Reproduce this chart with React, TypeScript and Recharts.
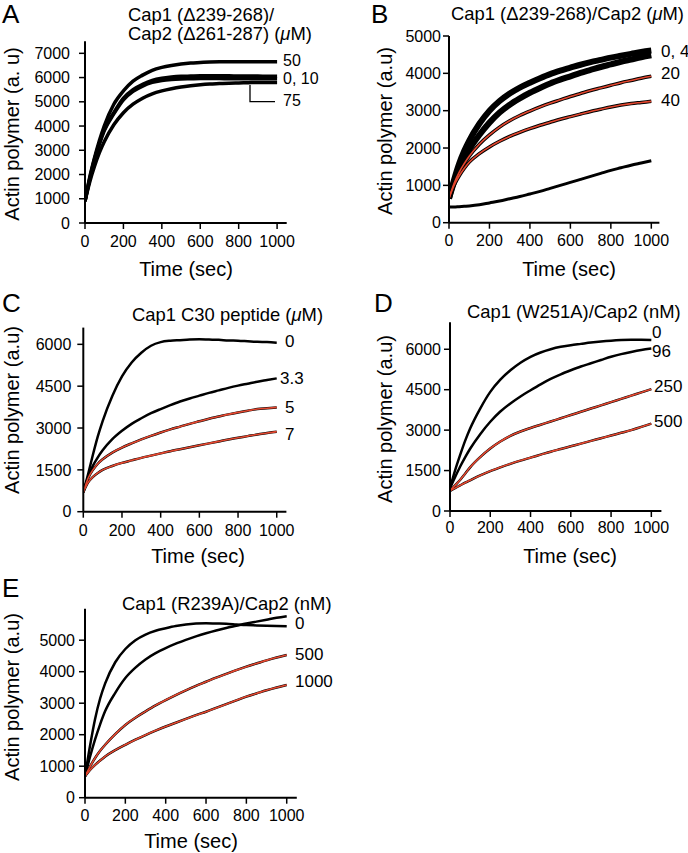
import { LineChart, Line, XAxis, YAxis } from 'recharts'

const FONT = '"Liberation Sans", Arial, Helvetica, sans-serif'
const RED = '#e4472f'

// sampling times (sec), shared by every trace
const time = [0, 25, 50, 75, 100, 150, 200, 250, 300, 350, 400, 450, 500, 550, 600, 650, 700, 750, 800, 850, 900, 950, 1000]
const xTicks = [0, 200, 400, 600, 800, 1000]

// A · Cap1 (Δ239-268)/Cap2 (Δ261-287) (µM)
const a50 = [900, 1900, 2700, 3400, 4000, 4900, 5450, 5850, 6100, 6300, 6420, 6500, 6560, 6600, 6620, 6640, 6650, 6650, 6650, 6650, 6650, 6650, 6650]
const a0 = [900, 1850, 2650, 3300, 3850, 4550, 5150, 5500, 5720, 5880, 5970, 6020, 6050, 6060, 6070, 6070, 6070, 6070, 6060, 6060, 6060, 6050, 6050]
const a10 = [900, 1800, 2600, 3250, 3800, 4500, 5080, 5430, 5650, 5800, 5880, 5920, 5940, 5950, 5960, 5960, 5960, 5950, 5950, 5950, 5950, 5950, 5950]
const a75 = [900, 1700, 2350, 2900, 3350, 4050, 4550, 4900, 5150, 5330, 5450, 5540, 5610, 5660, 5700, 5730, 5750, 5770, 5780, 5790, 5800, 5800, 5800]
const aTicks = [0, 1000, 2000, 3000, 4000, 5000, 6000, 7000]

// B · Cap1 (Δ239-268)/Cap2 (µM)
const b0 = [650, 1150, 1580, 1920, 2200, 2650, 3000, 3260, 3460, 3620, 3750, 3870, 3980, 4070, 4150, 4230, 4300, 4360, 4420, 4470, 4520, 4570, 4610]
const b4 = [650, 1080, 1430, 1720, 1960, 2350, 2680, 2950, 3160, 3330, 3480, 3610, 3730, 3830, 3920, 4010, 4090, 4170, 4240, 4310, 4370, 4430, 4480]
const b20 = [650, 1050, 1350, 1580, 1780, 2100, 2350, 2560, 2730, 2870, 2990, 3100, 3200, 3290, 3380, 3460, 3540, 3610, 3680, 3750, 3810, 3870, 3920]
const b40 = [650, 1000, 1250, 1450, 1620, 1850, 2030, 2180, 2310, 2420, 2520, 2610, 2690, 2770, 2840, 2910, 2980, 3040, 3100, 3150, 3190, 3220, 3250]
const bLow = [420, 420, 430, 440, 450, 480, 530, 580, 640, 700, 770, 840, 920, 1000, 1080, 1160, 1240, 1320, 1400, 1470, 1540, 1600, 1660]
const bTicks = [0, 1000, 2000, 3000, 4000, 5000]

// C · Cap1 C30 peptide (µM)
const c0 = [700, 1350, 2050, 2700, 3250, 4150, 4850, 5350, 5700, 5950, 6080, 6130, 6150, 6170, 6180, 6170, 6160, 6140, 6130, 6110, 6090, 6080, 6060]
const c33 = [700, 1250, 1650, 1950, 2200, 2600, 2900, 3150, 3350, 3530, 3680, 3820, 3950, 4060, 4160, 4260, 4350, 4440, 4520, 4590, 4660, 4720, 4780]
const c5 = [700, 1200, 1500, 1720, 1880, 2120, 2300, 2450, 2590, 2720, 2840, 2950, 3050, 3150, 3240, 3330, 3410, 3490, 3560, 3620, 3680, 3710, 3740]
const c7 = [700, 1050, 1250, 1390, 1500, 1640, 1750, 1840, 1930, 2010, 2090, 2170, 2240, 2310, 2380, 2450, 2520, 2590, 2650, 2710, 2770, 2820, 2870]
const cTicks = [0, 1500, 3000, 4500, 6000]

// D · Cap1 (W251A)/Cap2 (nM)
const d0 = [850, 1500, 2070, 2600, 3060, 3800, 4420, 4870, 5220, 5500, 5720, 5880, 6000, 6090, 6150, 6200, 6250, 6290, 6320, 6340, 6350, 6350, 6340]
const d96 = [840, 1250, 1640, 1990, 2310, 2850, 3310, 3690, 3990, 4250, 4480, 4700, 4900, 5070, 5220, 5360, 5480, 5600, 5720, 5820, 5900, 5970, 6025]
const d250 = [750, 950, 1150, 1380, 1620, 2000, 2320, 2580, 2790, 2950, 3080, 3200, 3320, 3440, 3560, 3680, 3800, 3920, 4040, 4160, 4280, 4400, 4520]
const d500 = [750, 850, 950, 1050, 1140, 1320, 1480, 1620, 1750, 1870, 1980, 2090, 2200, 2300, 2400, 2500, 2600, 2700, 2800, 2900, 3000, 3120, 3240]

// E · Cap1 (R239A)/Cap2 (nM)
const e0 = [680, 1650, 2500, 3150, 3630, 4300, 4720, 5000, 5180, 5300, 5380, 5450, 5500, 5530, 5540, 5530, 5520, 5500, 5480, 5470, 5460, 5450, 5440]
const eMid = [680, 1300, 1850, 2330, 2750, 3330, 3800, 4130, 4390, 4590, 4750, 4890, 5010, 5120, 5220, 5310, 5390, 5460, 5530, 5590, 5650, 5710, 5760]
const e500 = [680, 990, 1260, 1490, 1680, 2020, 2310, 2540, 2740, 2930, 3100, 3260, 3410, 3550, 3680, 3810, 3930, 4050, 4160, 4260, 4360, 4450, 4530]
const e1000 = [680, 880, 1040, 1180, 1310, 1510, 1680, 1840, 1990, 2130, 2260, 2380, 2500, 2620, 2730, 2850, 2970, 3090, 3210, 3310, 3410, 3500, 3580]
const eTicks = [0, 1000, 2000, 3000, 4000, 5000]

const toRows = (series: Record<string, number[]>) =>
  time.map((t, i) => {
    const row: Record<string, number> = { t }
    Object.keys(series).forEach((k) => {
      row[k] = series[k][i]
    })
    return row
  })

type PanelProps = {
  left: number
  top: number
  width: number
  height: number
  margin: { top: number; right: number; bottom: number; left: number }
  series: Record<string, number[]>
  xMax: number
  yMax: number
  yTicks: number[]
  xGap: number
  yGap: number
  traces: { key: string; w: number }[]
  fits: string[]
}

function Panel(p: PanelProps) {
  const tick = { fill: '#000', fontSize: 16, fontFamily: FONT }
  return (
    <div style={{ position: 'absolute', left: p.left, top: p.top }}>
      <LineChart width={p.width} height={p.height} data={toRows(p.series)} margin={p.margin}>
        <XAxis
          type="number"
          dataKey="t"
          domain={[0, p.xMax]}
          ticks={xTicks}
          interval={0}
          allowDataOverflow
          height={30}
          axisLine={{ stroke: '#000', strokeWidth: 2 }}
          tickLine={{ stroke: '#000', strokeWidth: 1.5 }}
          tickSize={6}
          tickMargin={p.xGap}
          tick={tick}
        />
        <YAxis
          type="number"
          domain={[0, p.yMax]}
          ticks={p.yTicks}
          interval={0}
          allowDataOverflow
          width={60}
          axisLine={{ stroke: '#000', strokeWidth: 2 }}
          tickLine={{ stroke: '#000', strokeWidth: 1.5 }}
          tickSize={6}
          tickMargin={p.yGap}
          tick={tick}
        />
        {p.traces.map((tr) => (
          <Line key={tr.key} dataKey={tr.key} type="monotone" stroke="#000" strokeWidth={tr.w} dot={false} isAnimationActive={false} />
        ))}
        {p.fits.map((k) => (
          <Line key={k + '-fit'} dataKey={k} type="monotone" stroke={RED} strokeWidth={1.6} dot={false} isAnimationActive={false} />
        ))}
      </LineChart>
    </div>
  )
}

const Mu = () => <tspan fontStyle="italic">μ</tspan>

export default function App() {
  return (
    <div style={{ position: 'absolute', left: 0, top: 0, width: 688, height: 853, background: '#fff', overflow: 'hidden' }}>
      <Panel
        left={0} top={0} width={344} height={290}
        margin={{ top: 41.2, right: 57.3, bottom: 37, left: 25 }}
        series={{ a75, a10, a0, a50 }}
        xMax={1050} yMax={7500} yTicks={aTicks} xGap={7} yGap={9}
        traces={[{ key: 'a75', w: 3.5 }, { key: 'a10', w: 3.5 }, { key: 'a0', w: 3.5 }, { key: 'a50', w: 3.5 }]}
        fits={[]}
      />
      <Panel
        left={344} top={0} width={344} height={290}
        margin={{ top: 36, right: 28.6, bottom: 37.3, left: 45 }}
        series={{ b0, b4, b20, b40, bLow }}
        xMax={1040} yMax={5000} yTicks={bTicks} xGap={6} yGap={2}
        traces={[{ key: 'b0', w: 6 }, { key: 'b4', w: 6 }, { key: 'b20', w: 3.5 }, { key: 'b40', w: 3.5 }, { key: 'bLow', w: 3 }]}
        fits={['b20', 'b40']}
      />
      <Panel
        left={0} top={290} width={344} height={280}
        margin={{ top: 37.6, right: 57.6, bottom: 28.3, left: 23.3 }}
        series={{ c0, c33, c5, c7 }}
        xMax={1050} yMax={6600} yTicks={cTicks} xGap={7} yGap={6}
        traces={[{ key: 'c0', w: 2.5 }, { key: 'c33', w: 2.5 }, { key: 'c5', w: 2.5 }, { key: 'c7', w: 2.5 }]}
        fits={['c5', 'c7']}
      />
      <Panel
        left={344} top={290} width={344} height={280}
        margin={{ top: 32.3, right: 26.6, bottom: 29, left: 46 }}
        series={{ d0, d96, d250, d500 }}
        xMax={1050} yMax={7000} yTicks={cTicks} xGap={5} yGap={3}
        traces={[{ key: 'd0', w: 2.5 }, { key: 'd96', w: 2.5 }, { key: 'd250', w: 2.5 }, { key: 'd500', w: 2.5 }]}
        fits={['d250', 'd500']}
      />
      <Panel
        left={0} top={570} width={344} height={283}
        margin={{ top: 38.7, right: 47.2, bottom: 25.3, left: 25 }}
        series={{ e0, eMid, e500, e1000 }}
        xMax={1050} yMax={6000} yTicks={eTicks} xGap={6} yGap={4}
        traces={[{ key: 'e0', w: 2.5 }, { key: 'eMid', w: 2.5 }, { key: 'e500', w: 2.5 }, { key: 'e1000', w: 2.5 }]}
        fits={['e500', 'e1000']}
      />

      <svg width={688} height={853} style={{ position: 'absolute', left: 0, top: 0, pointerEvents: 'none' }} fontFamily={FONT} fill="#000">
        {/* panel letters */}
        <g fontSize={26}>
          <text x={2} y={23}>A</text>
          <text x={371} y={23}>B</text>
          <text x={2} y={312}>C</text>
          <text x={374} y={312}>D</text>
          <text x={2} y={597}>E</text>
        </g>

        {/* titles */}
        <g fontSize={18.4}>
          <text x={128} y={21}>Cap1 (Δ239-268)/</text>
          <text x={128} y={40}>Cap2 (Δ261-287) (<Mu />M)</text>
          <text x={451} y={20}>Cap1 (Δ239-268)/Cap2 (<Mu />M)</text>
          <text x={132} y={321}>Cap1 C30 peptide (<Mu />M)</text>
          <text x={467} y={318}>Cap1 (W251A)/Cap2 (nM)</text>
          <text x={122} y={610}>Cap1 (R239A)/Cap2 (nM)</text>
        </g>

        {/* axis titles */}
        <g fontSize={20} textAnchor="middle">
          <text x={186} y={276}>Time (sec)</text>
          <text x={569} y={276}>Time (sec)</text>
          <text x={198} y={563}>Time (sec)</text>
          <text x={570} y={563}>Time (sec)</text>
          <text x={191} y={848}>Time (sec)</text>
          <text transform="translate(12,134) rotate(-90)" dominantBaseline="central">Actin polymer (a. u)</text>
          <text transform="translate(385,131) rotate(-90)" dominantBaseline="central">Actin polymer (a.u)</text>
          <text transform="translate(12,410) rotate(-90)" dominantBaseline="central">Actin polymer (a.u)</text>
          <text transform="translate(385,419) rotate(-90)" dominantBaseline="central">Actin polymer (a.u)</text>
          <text transform="translate(12,697) rotate(-90)" dominantBaseline="central">Actin polymer (a.u)</text>
        </g>

        {/* curve labels */}
        <g fontSize={16}>
          <text x={283} y={66}>50</text>
          <text x={283} y={84}>0, 10</text>
          <text x={283} y={106}>75</text>
        </g>
        <g fontSize={17}>
          <text x={661} y={57}>0, 4</text>
          <text x={661} y={79}>20</text>
          <text x={661} y={106}>40</text>
          <text x={285} y={347}>0</text>
          <text x={280} y={384}>3.3</text>
          <text x={285} y={413}>5</text>
          <text x={285} y={440}>7</text>
          <text x={652} y={338}>0</text>
          <text x={652} y={357}>96</text>
          <text x={654} y={392}>250</text>
          <text x={654} y={427}>500</text>
          <text x={295} y={629}>0</text>
          <text x={295} y={660}>500</text>
          <text x={295} y={687}>1000</text>
        </g>
        <path d="M250,85 V101.7 H275" fill="none" stroke="#000" strokeWidth={1.3} />
      </svg>
    </div>
  )
}
